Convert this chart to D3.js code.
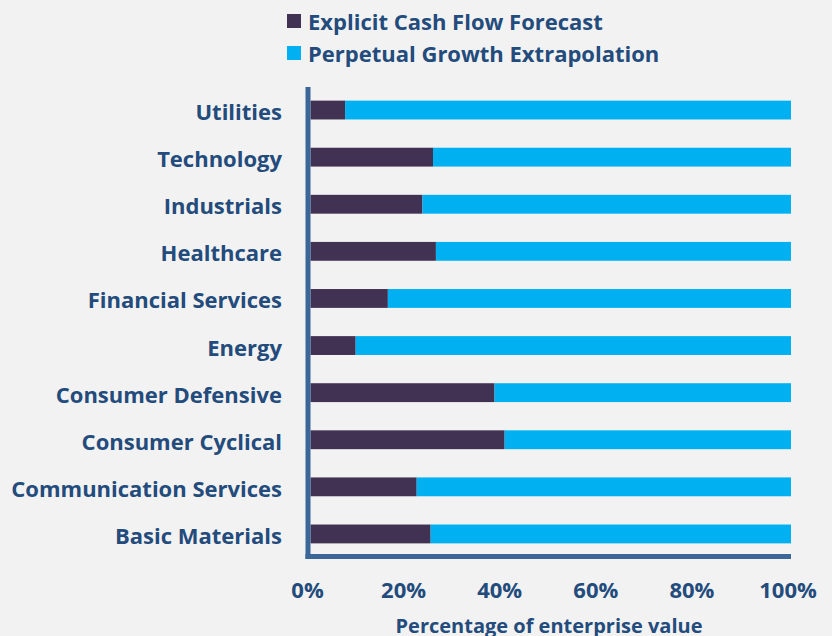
<!DOCTYPE html>
<html>
<head>
<meta charset="utf-8">
<script src="https://cdn.jsdelivr.net/npm/d3@7"></script>
<style>
  body { margin: 0; background: #f2f2f2; }
  svg { display: block; }
  text { font-family: "Open Sans", Lato, sans-serif; font-weight: bold; fill: #234b7c; }
</style>
</head>
<body>
<svg width="832" height="636"></svg>
<script>
const svg = d3.select("svg"),
      width = +svg.attr("width"),
      height = +svg.attr("height");

// sectors, top to bottom
const sectors = ["Utilities", "Technology", "Industrials", "Healthcare", "Financial Services",
                 "Energy", "Consumer Defensive", "Consumer Cyclical", "Communication Services", "Basic Materials"];
// share of enterprise value from explicit forecast (%)
const explicitShare = [7.2, 25.5, 23.3, 26.1, 16.1, 9.4, 38.3, 40.4, 22.1, 25.0];
const seriesNames = ["Explicit Cash Flow Forecast", "Perpetual Growth Extrapolation"];
const seriesColors = ["#413152", "#00b0f0"];
const xTicks = [0, 20, 40, 60, 80, 100];

const rows = sectors.map((s, i) => ({ sector: s, explicit: explicitShare[i], perpetual: 100 - explicitShare[i] }));
const stack = d3.stack().keys(["explicit", "perpetual"])(rows);

const x = d3.scaleLinear().domain([0, 100]).range([310.5, 791]);
const y = d3.scaleBand().domain(sectors).range([86.5, 557.5]).paddingInner(0.6).paddingOuter(0.3);

const fontSize = 22;

// bars
svg.append("g").selectAll("g")
    .data(stack)
    .enter().append("g")
    .attr("fill", (d, i) => seriesColors[i])
    .selectAll("rect")
    .data(d => d)
    .enter().append("rect")
    .attr("x", d => x(d[0]))
    .attr("width", d => x(d[1]) - x(d[0]))
    .attr("y", d => y(d.data.sector))
    .attr("height", y.bandwidth());

// axis lines
svg.append("line")
    .attr("x1", 308).attr("x2", 308)
    .attr("y1", 87).attr("y2", 559)
    .attr("stroke", "#3b6698").attr("stroke-width", 5);
svg.append("line")
    .attr("x1", 305.5).attr("x2", 791)
    .attr("y1", 556.5).attr("y2", 556.5)
    .attr("stroke", "#3b6698").attr("stroke-width", 5);

// category labels
svg.append("g").selectAll("text")
    .data(sectors)
    .enter().append("text")
    .attr("x", 282)
    .attr("y", d => y(d) + y.bandwidth() / 2 + 10)
    .attr("text-anchor", "end")
    .attr("font-size", fontSize)
    .text(d => d);

// x tick labels
svg.append("g").selectAll("text")
    .data(xTicks)
    .enter().append("text")
    .attr("x", d => x(d) - 3)
    .attr("y", 598)
    .attr("text-anchor", "middle")
    .attr("font-size", fontSize)
    .text(d => d + "%");

svg.append("text")
    .attr("x", 549)
    .attr("y", 633)
    .attr("text-anchor", "middle")
    .attr("font-size", 20)
    .text("Percentage of enterprise value");

// legend
const legend = svg.append("g").selectAll("g")
    .data(seriesNames)
    .enter().append("g")
    .attr("transform", (d, i) => `translate(287,${14 + i * 32})`);
legend.append("rect")
    .attr("width", 14).attr("height", 14)
    .attr("fill", (d, i) => seriesColors[i]);
legend.append("text")
    .attr("x", 21)
    .attr("y", 16)
    .attr("font-size", fontSize)
    .text(d => d);
</script>
</body>
</html>
